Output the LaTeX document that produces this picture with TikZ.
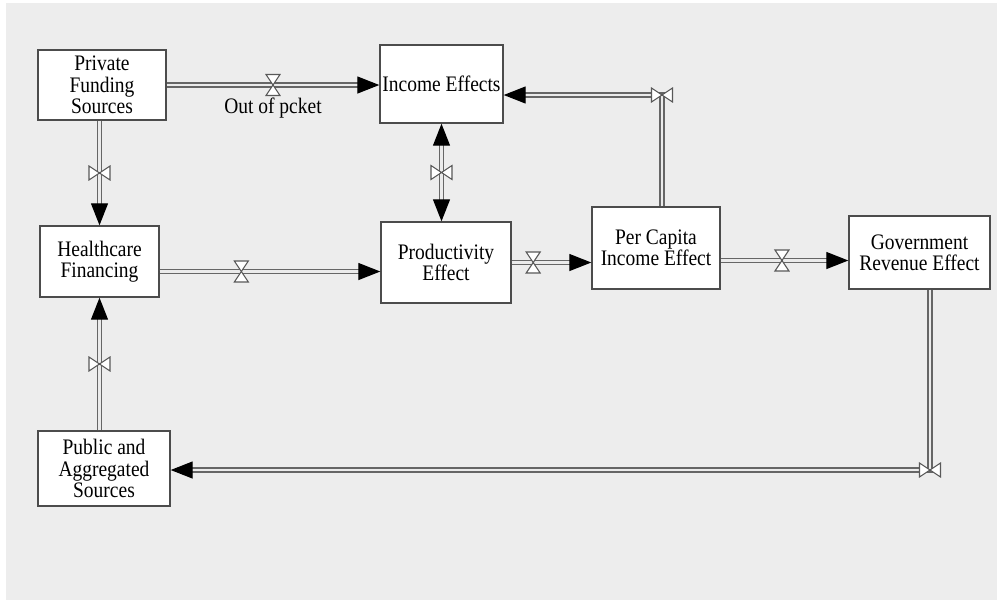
\documentclass[tikz,border=0pt]{standalone}
\usepackage{fontspec}
\setmainfont{Liberation Serif}[FakeStretch=0.88]
\usetikzlibrary{positioning, calc, arrows.meta}

\begin{document}
\begin{tikzpicture}[x=0.02cm, y=-0.02cm]
	\tikzset{box/.style={draw=black!70, line width=0.8pt, fill=white, align=center, inner sep=1pt, font=\fontsize{12.6}{12.2}\selectfont}}
	\tikzset{pipe/.style={draw=black!60, line width=0.7pt, double=black!8, double distance=1.6pt}}
	\tikzset{flow/.style={-{Triangle[length=0.44cm, width=0.34cm, color=black]}}}
	\tikzset{flows/.style={{Triangle[length=0.44cm, width=0.34cm, color=black]}-{Triangle[length=0.44cm, width=0.34cm, color=black]}}}
	\tikzset{valveh/.pic={\draw[black!65, fill=white, line width=0.6pt] (-7,-10.5) -- (7,-10.5) -- (-7,10.5) -- (7,10.5) -- cycle;}}
	\tikzset{valvev/.pic={\draw[black!65, fill=white, line width=0.6pt] (-10.5,-7) -- (-10.5,7) -- (10.5,-7) -- (10.5,7) -- cycle;}}

	\useasboundingbox (0,0) rectangle (997,600);
	\fill[white] (0,0) rectangle (997,600);
	\fill[black!7] (6,3) rectangle (997,600);

	\node (priv) [box, minimum width=2.56cm, minimum height=1.40cm] at (102,85) {Private\\Funding\\Sources};
	\node (income) [box, minimum width=2.46cm, minimum height=1.56cm] at (441.5,84) {Income Effects};
	\node (health) [box, minimum width=2.38cm, minimum height=1.42cm] at (99.5,261.5) {Healthcare\\Financing};
	\node (prod) [box, minimum width=2.60cm, minimum height=1.62cm] at (446,262.5) {Productivity\\Effect};
	\node (percap) [box, minimum width=2.56cm, minimum height=1.64cm] at (656,248) {Per Capita\\Income Effect};
	\node (gov) [box, minimum width=2.82cm, minimum height=1.46cm] at (919.5,252.5) {Government\\Revenue Effect};
	\node (pub) [box, minimum width=2.64cm, minimum height=1.50cm] at (104,468.5) {Public and\\Aggregated\\Sources};

	% flows between the stocks
	\draw[pipe, flow] (priv.east) -- (priv.east -| income.west) coordinate[pos=0.5] (v1);
	\draw[pipe, flow] (health.north |- priv.south) -- (health.north) coordinate[pos=0.5] (v2);
	\draw[pipe, flow] ([yshift=-0.2cm]health.east) -- ([yshift=-0.2cm]health.east -| prod.west) coordinate[pos=0.37] (v3);
	\draw[pipe, flow] (health.south |- pub.north) -- (health.south) coordinate[pos=0.5] (v4);
	\draw[pipe, flows] (income.south) -- (income.south |- prod.north) coordinate[pos=0.5] (v5);
	\draw[pipe, flow] (prod.east) -- (prod.east -| percap.west) coordinate[pos=0.27] (v6);
	\draw[pipe, flow] ([yshift=-0.25cm]percap.east) -- ([yshift=-0.25cm]percap.east -| gov.west) coordinate[pos=0.48] (v7);
	\draw[pipe, flow] ([xshift=0.12cm]percap.north) |- ([yshift=-0.22cm]income.east) coordinate[pos=0.5] (v8);
	\draw[pipe, flow] ([xshift=0.21cm]gov.south) |- ([yshift=-0.03cm]pub.east) coordinate[pos=0.5] (v9);

	\foreach \v in {v1,v3,v6,v7} {\pic at (\v) {valveh};}
	\foreach \v in {v2,v4,v5,v8,v9} {\pic at (\v) {valvev};}

	\node (pocket) [font=\fontsize{12.6}{12.2}\selectfont] at ($(v1)+(0,23)$) {Out of pcket};
\end{tikzpicture}
\end{document}
